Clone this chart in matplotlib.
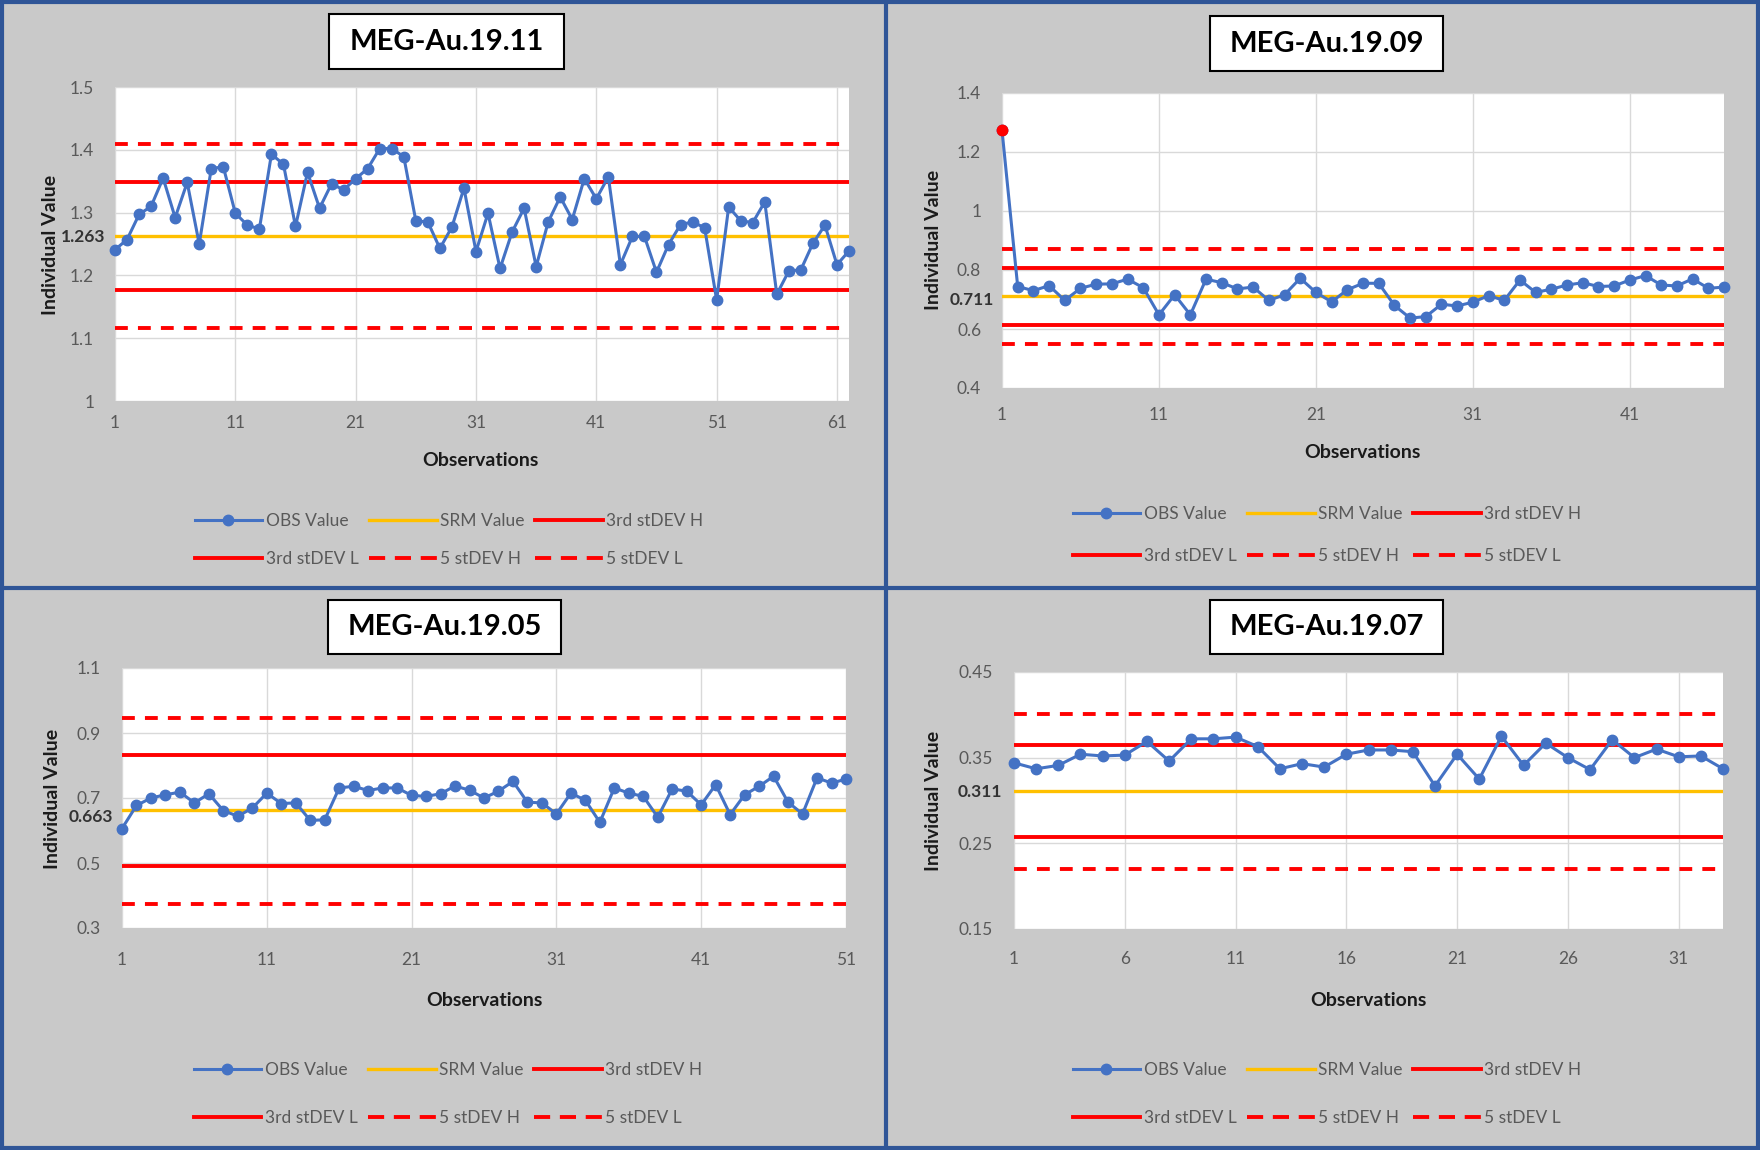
import matplotlib
matplotlib.use("Agg")
import matplotlib.pyplot as plt
from matplotlib.lines import Line2D
from matplotlib.patches import Rectangle
from matplotlib.transforms import offset_copy
import numpy as np

plt.rcParams['font.family'] = ['Lato', 'DejaVu Sans']

# ---------------- data ----------------
titles = ["MEG-Au.19.11", "MEG-Au.19.09", "MEG-Au.19.05", "MEG-Au.19.07"]

obs_1911 = [1.241, 1.257, 1.297, 1.310, 1.355, 1.292, 1.348, 1.250, 1.370, 1.373,
            1.299, 1.280, 1.274, 1.393, 1.377, 1.278, 1.364, 1.307, 1.346, 1.336,
            1.354, 1.370, 1.402, 1.402, 1.389, 1.287, 1.285, 1.243, 1.277, 1.339,
            1.238, 1.299, 1.211, 1.269, 1.307, 1.214, 1.285, 1.325, 1.289, 1.354,
            1.322, 1.357, 1.217, 1.262, 1.262, 1.205, 1.249, 1.281, 1.285, 1.276,
            1.161, 1.309, 1.287, 1.284, 1.317, 1.170, 1.207, 1.209, 1.251, 1.280,
            1.217, 1.239]
obs_1909 = [1.274, 0.744, 0.730, 0.747, 0.697, 0.738, 0.752, 0.753, 0.769, 0.740,
            0.648, 0.716, 0.648, 0.769, 0.757, 0.736, 0.742, 0.697, 0.716, 0.772,
            0.724, 0.692, 0.733, 0.755, 0.755, 0.680, 0.637, 0.642, 0.684, 0.678,
            0.691, 0.713, 0.697, 0.766, 0.724, 0.735, 0.749, 0.757, 0.744, 0.746,
            0.766, 0.781, 0.749, 0.746, 0.770, 0.738, 0.742]
obs_1905 = [0.606, 0.677, 0.700, 0.710, 0.718, 0.685, 0.713, 0.661, 0.644, 0.669,
            0.715, 0.683, 0.685, 0.631, 0.633, 0.731, 0.736, 0.723, 0.731, 0.731,
            0.708, 0.705, 0.713, 0.737, 0.724, 0.700, 0.721, 0.751, 0.687, 0.685,
            0.651, 0.715, 0.693, 0.625, 0.731, 0.715, 0.705, 0.641, 0.728, 0.721,
            0.679, 0.741, 0.649, 0.710, 0.736, 0.767, 0.687, 0.651, 0.762, 0.746,
            0.758]
obs_1907 = [0.344, 0.337, 0.341, 0.354, 0.352, 0.353, 0.369, 0.346, 0.372, 0.372,
            0.374, 0.363, 0.337, 0.343, 0.339, 0.354, 0.359, 0.359, 0.357, 0.317,
            0.354, 0.325, 0.375, 0.341, 0.367, 0.350, 0.336, 0.371, 0.350, 0.360,
            0.351, 0.352, 0.337]

# SRM value, 3rd stDEV H, 3rd stDEV L, 5 stDEV H, 5 stDEV L
limits_1911 = [1.263, 1.349, 1.176, 1.409, 1.116]
limits_1909 = [0.711, 0.806, 0.614, 0.871, 0.550]
limits_1905 = [0.663, 0.831, 0.491, 0.945, 0.375]
limits_1907 = [0.311, 0.365, 0.257, 0.401, 0.220]

yticks_1911 = [1.0, 1.1, 1.2, 1.3, 1.4, 1.5]
yticks_1909 = [0.4, 0.6, 0.8, 1.0, 1.2, 1.4]
yticks_1905 = [0.3, 0.5, 0.7, 0.9, 1.1]
yticks_1907 = [0.15, 0.25, 0.35, 0.45]

xtick_step = [10, 10, 10, 5]

legend_labels = ["OBS Value", "SRM Value", "3rd stDEV H", "3rd stDEV L", "5 stDEV H", "5 stDEV L"]

# ---------------- layout ----------------
W, H = 1760, 1150
BG = "#c9c9c9"
BLUE = "#2f5597"
OBS_C = "#4472c4"
SRM_C = "#ffc000"
RED = "#ff0000"
TICK_C = "#595959"


def frect(x0, y0, x1, y1):
    return [x0 / W, 1 - y1 / H, (x1 - x0) / W, (y1 - y0) / H]


panels = [
    dict(obs=obs_1911, lim=limits_1911, yt=yticks_1911, title=titles[0], step=xtick_step[0],
         plot=(115, 87, 849, 401), tbox=(329, 14, 564, 69), ylab=(50, 245), xlab=(480, 461),
         leg=(449, 540), legsp=1.3, xpad=10, srmoff=10, srmdy=-1),
    dict(obs=obs_1909, lim=limits_1909, yt=yticks_1909, title=titles[1], step=xtick_step[1],
         plot=(1002, 93, 1724, 388), tbox=(1210, 16, 1443, 71), ylab=(933, 240), xlab=(1362, 452),
         leg=(1327, 535), legsp=1.5, xpad=14, srmoff=8, srmdy=-4),
    dict(obs=obs_1905, lim=limits_1905, yt=yticks_1905, title=titles[2], step=xtick_step[2],
         plot=(122, 668, 846, 928), tbox=(328, 600, 561, 654), ylab=(53, 799), xlab=(484, 1000),
         leg=(448, 1094), legsp=1.8, xpad=17, srmoff=9, srmdy=-7),
    dict(obs=obs_1907, lim=limits_1907, yt=yticks_1907, title=titles[3], step=xtick_step[3],
         plot=(1014, 672, 1723, 929), tbox=(1210, 600, 1443, 654), ylab=(933, 801), xlab=(1368, 1000),
         leg=(1327, 1094), legsp=1.8, xpad=16, srmoff=12, srmdy=-1),
]

fig = plt.figure(figsize=(W / 100, H / 100), dpi=100, facecolor=BG)


def fmt(v):
    s = f"{v:.2f}".rstrip("0").rstrip(".")
    return s


for p in panels:
    obs = np.array(p["obs"])
    n = len(obs)
    x = np.arange(1, n + 1)
    srm, h3, l3, h5, l5 = p["lim"]
    ax = fig.add_axes(frect(*p["plot"]))
    ax.set_facecolor("white")
    for s in ax.spines.values():
        s.set_visible(False)
    ax.set_xlim(1, n)
    ax.set_ylim(p["yt"][0], p["yt"][-1])
    xt = list(range(1, n + 1, p["step"]))
    ax.set_xticks(xt)
    ax.set_xticklabels([str(v) for v in xt])
    ax.set_yticks(p["yt"])
    ax.set_yticklabels([fmt(v) for v in p["yt"]])
    ax.tick_params(axis="both", length=0, colors=TICK_C, labelsize=12.5)
    ax.tick_params(axis="y", pad=15)
    ax.tick_params(axis="x", pad=p["xpad"])
    ax.grid(True, color="#d9d9d9", linewidth=1.0)
    ax.set_axisbelow(True)

    lw_r = 2.8
    ax.plot([1, n], [h5, h5], color=RED, lw=lw_r, dashes=(3.3, 2.6), solid_capstyle="butt")
    ax.plot([1, n], [l5, l5], color=RED, lw=lw_r, dashes=(3.3, 2.6), solid_capstyle="butt")
    ax.plot([1, n], [h3, h3], color=RED, lw=lw_r)
    ax.plot([1, n], [l3, l3], color=RED, lw=lw_r)
    ax.plot([1, n], [srm, srm], color=SRM_C, lw=2.4)
    ax.plot(x, obs, color=OBS_C, lw=2.2, marker="o", markersize=7.5, clip_on=False, zorder=5)
    out = (obs > h5) | (obs < l5)
    if out.any():
        ax.plot(x[out], obs[out], linestyle="none", marker="o", markersize=7.5,
                color=RED, clip_on=False, zorder=6)

    # bold SRM tick label
    pw = p["plot"][2] - p["plot"][0]
    tr = offset_copy(ax.get_yaxis_transform(), fig=fig, x=0, y=p["srmdy"], units="dots")
    ax.text(-p["srmoff"] / pw, srm, f"{srm:.3f}", transform=tr,
            ha="right", va="center", fontsize=12.5, fontweight="bold", color="#333333")

    # axis labels
    fig.text(p["ylab"][0] / W, 1 - p["ylab"][1] / H, "Individual Value", rotation=90,
             ha="center", va="center", fontsize=14, fontweight="bold", color="#1a1a1a")
    fig.text(p["xlab"][0] / W, 1 - p["xlab"][1] / H, "Observations",
             ha="center", va="center", fontsize=14, fontweight="bold", color="#1a1a1a")

    # title box
    tx0, ty0, tx1, ty1 = p["tbox"]
    fig.add_artist(Rectangle((tx0 / W, 1 - ty1 / H), (tx1 - tx0) / W, (ty1 - ty0) / H,
                             transform=fig.transFigure, facecolor="white",
                             edgecolor="black", linewidth=1.5))
    fig.text((tx0 + tx1) / 2 / W, 1 - (ty0 + ty1) / 2 / H, p["title"], ha="center",
             va="center", fontsize=21, fontweight="bold", color="black")

    # legend (row-major order via column-major reordering)
    handles = [
        Line2D([], [], color=OBS_C, lw=2.2, marker="o", markersize=7.5),
        Line2D([], [], color=SRM_C, lw=2.4),
        Line2D([], [], color=RED, lw=2.8),
        Line2D([], [], color=RED, lw=2.8),
        Line2D([], [], color=RED, lw=2.8, dashes=(4.15, 2.5)),
        Line2D([], [], color=RED, lw=2.8, dashes=(4.15, 2.5)),
    ]
    order = [0, 3, 1, 4, 2, 5]
    fig.legend([handles[i] for i in order], [legend_labels[i] for i in order],
               loc="center", bbox_to_anchor=(p["leg"][0] / W, 1 - p["leg"][1] / H),
               ncol=3, frameon=False, fontsize=12.5, labelcolor=TICK_C,
               handlelength=3.9, handletextpad=0.2, columnspacing=0.6,
               labelspacing=p["legsp"], numpoints=1)

# blue panel borders
for (xa, ya, xb, yb) in [(2, 2, 1758, 2), (2, 1148, 1758, 1148), (2, 2, 2, 1148),
                         (1758, 2, 1758, 1148), (886, 2, 886, 1148), (2, 588, 1758, 588)]:
    fig.add_artist(Line2D([xa / W, xb / W], [1 - ya / H, 1 - yb / H], color=BLUE,
                          lw=3, transform=fig.transFigure))

fig.savefig("out.png", dpi=100, facecolor=BG)
